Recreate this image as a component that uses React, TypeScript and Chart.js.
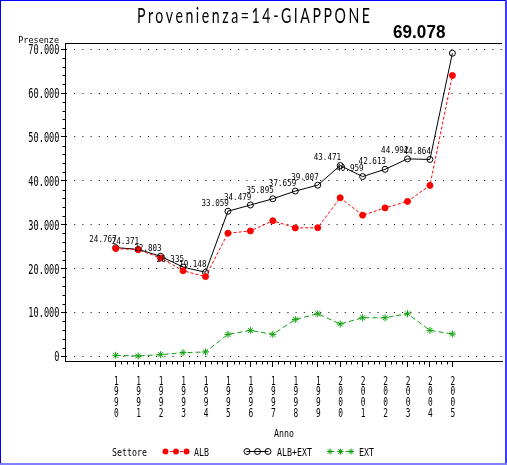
import React, { useEffect, useRef } from 'react';
import { Chart, registerables } from 'chart.js';

Chart.register(...registerables);

const TITLE = 'Provenienza=14-GIAPPONE';
const Y_TITLE = 'Presenze';
const X_TITLE = 'Anno';
const LEGEND_TITLE = 'Settore';

const YEARS = [1990, 1991, 1992, 1993, 1994, 1995, 1996, 1997, 1998, 1999, 2000, 2001, 2002, 2003, 2004, 2005];
const ALB = [24540, 24290, 22420, 19500, 18160, 28060, 28570, 30900, 29260, 29310, 36120, 32170, 33820, 35290, 38950, 64000];
const ALB_EXT = [24767, 24371, 22803, 20335, 19148, 33059, 34479, 35895, 37659, 39007, 43471, 40959, 42613, 44992, 44864, 69078];
const EXT = [230, 80, 380, 830, 990, 5000, 5900, 5000, 8400, 9700, 7350, 8790, 8790, 9700, 5910, 5080];
const Y_TICKS = [0, 10000, 20000, 30000, 40000, 50000, 60000, 70000];
const SERIES_NAMES = ['ALB', 'ALB+EXT', 'EXT'];

const MONO = "'DejaVu Sans Mono', 'Liberation Mono', monospace";
const RED = '#ff0000';
const BLACK = '#000000';
const GREEN = '#10a010';

const fmt = (v: number) => Math.round(v).toString().replace(/\B(?=(\d{3})+(?!\d))/g, '.');

function txt(
  ctx: CanvasRenderingContext2D,
  text: string,
  x: number,
  y: number,
  size: number,
  sx: number,
  align: CanvasTextAlign,
  family: string = MONO,
  weight: string = 'normal'
) {
  ctx.save();
  ctx.font = `${weight} ${size}px ${family}`;
  ctx.textAlign = align;
  ctx.textBaseline = 'alphabetic';
  ctx.fillStyle = '#000';
  ctx.translate(x, y);
  ctx.scale(sx, 1);
  ctx.fillText(text, 0, 0);
  ctx.restore();
}

function drawMarker(ctx: CanvasRenderingContext2D, style: string, x: number, y: number, r: number, color: string) {
  ctx.save();
  ctx.strokeStyle = color;
  ctx.fillStyle = color;
  ctx.lineWidth = 1;
  ctx.setLineDash([]);
  if (style === 'filled') {
    ctx.beginPath();
    ctx.arc(x, y, r, 0, Math.PI * 2);
    ctx.fill();
  } else if (style === 'open') {
    ctx.beginPath();
    ctx.arc(x, y, r, 0, Math.PI * 2);
    ctx.stroke();
  } else {
    ctx.beginPath();
    for (let k = 0; k < 4; k++) {
      const a = (k * Math.PI) / 4;
      ctx.moveTo(x - Math.cos(a) * r, y - Math.sin(a) * r);
      ctx.lineTo(x + Math.cos(a) * r, y + Math.sin(a) * r);
    }
    ctx.stroke();
  }
  ctx.restore();
}

function drawTitle(ctx: CanvasRenderingContext2D, text: string, cx: number, baseline: number, targetWidth: number) {
  ctx.save();
  ctx.font = "400 22px Lato, 'Open Sans', 'DejaVu Sans', sans-serif";
  (ctx as any).letterSpacing = '4px';
  ctx.textAlign = 'left';
  ctx.textBaseline = 'alphabetic';
  ctx.fillStyle = '#000';
  const w = ctx.measureText(text).width - 4;
  const sx = targetWidth / w;
  ctx.translate(cx - targetWidth / 2, baseline);
  ctx.scale(sx, 1);
  ctx.fillText(text, 0, 0);
  ctx.restore();
}

const decorPlugin = {
  id: 'decor',
  afterDatasetsDraw(chart: any) {
    const ctx: CanvasRenderingContext2D = chart.ctx;
    const meta = chart.getDatasetMeta(1);
    meta.data.forEach((p: any, i: number) => {
      const label = fmt(ALB_EXT[i]);
      if (i === meta.data.length - 1) {
        txt(ctx, label, p.x - 7, 38, 18, 0.95, 'right', "'Liberation Sans', Arial, sans-serif", 'bold');
      } else {
        txt(ctx, label, p.x + 1, p.y - 5.5, 9.5, 0.8, 'right');
      }
    });
  },
  afterDraw(chart: any) {
    const ctx: CanvasRenderingContext2D = chart.ctx;
    const { left, right, top, bottom } = chart.chartArea;
    const xs = chart.scales.x;
    const ys = chart.scales.y;
    ctx.save();
    ctx.strokeStyle = '#000';
    ctx.lineWidth = 1;
    ctx.setLineDash([]);
    // top frame
    ctx.beginPath();
    ctx.moveTo(left, Math.round(top) + 0.5);
    ctx.lineTo(right, Math.round(top) + 0.5);
    ctx.stroke();
    // minor ticks
    ctx.beginPath();
    for (let v = YEARS[0]; v < YEARS[YEARS.length - 1]; v += 0.25) {
      if (Math.abs(v - Math.round(v)) < 1e-6) continue;
      const px = Math.round(xs.getPixelForValue(v)) + 0.5;
      ctx.moveTo(px, bottom);
      ctx.lineTo(px, bottom + 3.5);
    }
    for (let v = 0; v < Y_TICKS[Y_TICKS.length - 1]; v += 2000) {
      if (v % 10000 === 0) continue;
      const py = Math.round(ys.getPixelForValue(v)) + 0.5;
      ctx.moveTo(left, py);
      ctx.lineTo(left - 2.5, py);
    }
    ctx.stroke();
    ctx.restore();

    // tick labels (from the scales' own ticks)
    xs.ticks.forEach((t: any) => {
      const px = xs.getPixelForValue(t.value);
      const chars = String(t.value).split('');
      chars.forEach((c, j) => txt(ctx, c, px + 0.5, 384.5 + j * 10.7, 12, 0.65, 'center'));
    });
    ys.ticks.forEach((t: any) => {
      const py = ys.getPixelForValue(t.value);
      txt(ctx, fmt(t.value), 59.5, py + 5, 13.7, 0.63, 'right');
    });

    // title
    drawTitle(ctx, TITLE, chart.width / 2, 23, 233);
    // axis titles
    txt(ctx, Y_TITLE, 59, 43.3, 9.5, 0.89, 'right');
    txt(ctx, X_TITLE, (left + right) / 2 + 0.5, 437.3, 10, 0.83, 'center');

    // legend
    const ly = 451.5;
    txt(ctx, LEGEND_TITLE, 112, 455.7, 10, 0.83, 'left');
    const centers = [176, 257.5, 340.5];
    const textX = [194, 277, 359];
    const styles = ['filled', 'open', 'star'];
    const colors = [RED, BLACK, GREEN];
    const dashes = [[3, 2], [], [5, 3]];
    centers.forEach((cx, k) => {
      ctx.save();
      ctx.strokeStyle = colors[k];
      ctx.lineWidth = 1;
      ctx.setLineDash(dashes[k]);
      ctx.beginPath();
      ctx.moveTo(cx - 11, ly);
      ctx.lineTo(cx + 11, ly);
      ctx.stroke();
      ctx.restore();
      for (let j = -1; j <= 1; j++) drawMarker(ctx, styles[k], cx + j * 10.5, ly, 3, colors[k]);
      txt(ctx, SERIES_NAMES[k], textX[k], 455.7, 10, 0.83, 'left');
    });

    // window border
    ctx.save();
    ctx.fillStyle = '#0000ff';
    ctx.fillRect(0, 0, 1, chart.height);
    ctx.fillRect(0, 0, chart.width, 1);
    ctx.fillStyle = '#3c3cff';
    ctx.fillRect(chart.width - 2, 0, 2, chart.height);
    ctx.fillStyle = '#8080ff';
    ctx.fillRect(0, chart.height - 2, chart.width, 2);
    ctx.restore();
  },
};

export default function App() {
  const ref = useRef<HTMLCanvasElement | null>(null);
  useEffect(() => {
    if (!ref.current) return;
    const chart = new Chart(ref.current, {
      type: 'line',
      data: {
        datasets: [
          {
            label: SERIES_NAMES[0],
            data: YEARS.map((x, i) => ({ x, y: ALB[i] })),
            borderColor: RED,
            backgroundColor: RED,
            borderWidth: 1,
            borderDash: [3, 2],
            pointStyle: 'circle',
            pointRadius: 3,
            pointBorderWidth: 1,
            pointBackgroundColor: RED,
            pointBorderColor: RED,
            tension: 0,
          },
          {
            label: SERIES_NAMES[1],
            data: YEARS.map((x, i) => ({ x, y: ALB_EXT[i] })),
            borderColor: BLACK,
            backgroundColor: 'rgba(0,0,0,0)',
            borderWidth: 1,
            pointStyle: 'circle',
            pointRadius: 3,
            pointBorderWidth: 1,
            pointBackgroundColor: 'rgba(0,0,0,0)',
            pointBorderColor: BLACK,
            tension: 0,
          },
          {
            label: SERIES_NAMES[2],
            data: YEARS.map((x, i) => ({ x, y: EXT[i] })),
            borderColor: GREEN,
            backgroundColor: GREEN,
            borderWidth: 1,
            borderDash: [5, 3],
            pointStyle: 'star',
            pointRadius: 3.5,
            pointBorderWidth: 1,
            pointBorderColor: GREEN,
            tension: 0,
          },
        ],
      },
      options: {
        responsive: false,
        animation: false,
        events: [],
        layout: { padding: { top: 43, right: 2, left: 0, bottom: 24 } },
        plugins: {
          legend: { display: false },
          tooltip: { enabled: false },
          title: { display: false },
        },
        scales: {
          x: {
            type: 'linear',
            min: 1987.74,
            max: 2007.21,
            afterBuildTicks: (scale: any) => {
              scale.ticks = YEARS.map((v) => ({ value: v }));
            },
            afterFit: (scale: any) => {
              scale.height = 80;
            },
            grid: {
              drawOnChartArea: false,
              drawTicks: true,
              tickLength: 6,
              tickColor: '#000',
              color: '#000',
            },
            border: { display: true, color: '#000', width: 1 },
            ticks: { display: false, autoSkip: false, maxRotation: 0 },
            title: { display: false },
          },
          y: {
            type: 'linear',
            min: -1070,
            max: 71400,
            afterBuildTicks: (scale: any) => {
              scale.ticks = Y_TICKS.map((v) => ({ value: v }));
            },
            afterFit: (scale: any) => {
              scale.width = 65;
            },
            grid: {
              drawOnChartArea: true,
              drawTicks: true,
              tickLength: 4,
              tickColor: '#000',
              color: '#000',
              lineWidth: 1,
            },
            border: { display: true, color: '#000', width: 1, dash: [1, 7.2] },
            ticks: { display: false },
          },
        },
      },
      plugins: [decorPlugin],
    } as any);
    return () => chart.destroy();
  }, []);

  return (
    <div style={{ position: 'absolute', left: 0, top: 0, width: 507, height: 465, background: '#fff' }}>
      <canvas ref={ref} width={507} height={465} style={{ display: 'block', width: 507, height: 465 }} />
    </div>
  );
}
